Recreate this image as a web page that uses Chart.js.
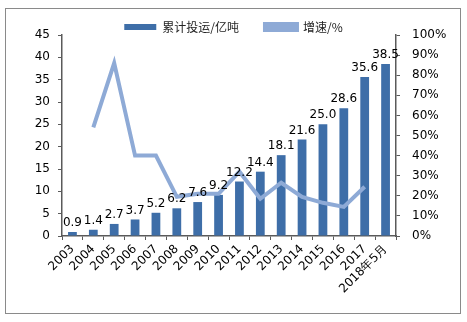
<!DOCTYPE html>
<html>
<head>
<meta charset="utf-8">
<script src="https://cdn.jsdelivr.net/npm/chart.js@4/dist/chart.umd.min.js"></script>
<style>
  body { margin: 0; background: #fff; }
  #wrap { position: relative; width: 467px; height: 322px; }
  #frame { position: absolute; left: 5px; top: 8px; width: 454px; height: 304px; border: 1px solid #8a8a8a; }
  canvas { position: absolute; left: 0; top: 0; }
</style>
</head>
<body>
<div id="wrap">
  <div id="frame"></div>
  <canvas id="c" width="467" height="322"></canvas>
</div>
<script>
// categories and series
var years = ['2003', '2004', '2005', '2006', '2007', '2008', '2009', '2010', '2011', '2012', '2013', '2014', '2015', '2016', '2017', '2018年5月'];
var totalTons = [0.9, 1.4, 2.7, 3.7, 5.2, 6.2, 7.6, 9.2, 12.2, 14.4, 18.1, 21.6, 25.0, 28.6, 35.6, 38.5];
var growthPct = [null, 54, 86, 40, 40, 19.5, 21, 21, 32, 18.5, 26.5, 19.5, 16.5, 14.5, 24.5, null];

var barColor = '#3e6ea8';
var lineColor = '#8eaad6';
var axisColor = '#5a5a5a';
var tickFont = { family: 'DejaVu Sans', size: 12 };

// draws the value on top of every bar
var barValues = {
	id: 'barValues',
	afterDatasetsDraw: function(chart) {
		var ctx = chart.ctx;
		var meta = chart.getDatasetMeta(0);
		ctx.save();
		ctx.font = '12px "DejaVu Sans"';
		ctx.fillStyle = '#000';
		ctx.textAlign = 'center';
		ctx.textBaseline = 'bottom';
		meta.data.forEach(function(bar, i) {
			ctx.fillText(totalTons[i].toFixed(1), bar.x, bar.y - 3);
		});
		ctx.restore();
	}
};

// legend sits closer to the plot than chart.js allows by default
var tightLegend = {
	id: 'tightLegend',
	afterInit: function(chart) {
		var lg = chart.legend;
		if (!lg) return;
		var fit = lg.fit;
		lg.fit = function() {
			fit.call(this);
			this.height -= 8;
		};
	}
};

var myChart = new Chart(document.getElementById('c').getContext('2d'), {
	type: 'bar',
	data: {
		labels: years,
		datasets: [{
			label: '累计投运/亿吨',
			data: totalTons,
			backgroundColor: barColor,
			borderColor: barColor,
			borderWidth: 0,
			barPercentage: 0.42,
			categoryPercentage: 1,
			yAxisID: 'y',
			order: 1
		}, {
			type: 'line',
			label: '增速/%',
			data: growthPct,
			borderColor: lineColor,
			backgroundColor: lineColor,
			borderWidth: 4,
			pointRadius: 0,
			tension: 0,
			spanGaps: false,
			yAxisID: 'y1',
			order: 0
		}]
	},
	options: {
		responsive: false,
		animation: false,
		layout: { padding: { top: -5, left: 0, right: 0, bottom: 0 } },
		plugins: {
			legend: {
				display: true,
				labels: {
					font: { family: 'Noto Sans CJK SC', size: 12 },
					color: '#222',
					boxWidth: 32,
					boxHeight: 6,
					padding: 26,
					sort: function(a, b) { return a.datasetIndex - b.datasetIndex; }
				}
			},
			tooltip: { enabled: false }
		},
		scales: {
			x: {
				afterFit: function(s) { s.height = 86; },
				grid: { drawOnChartArea: false, offset: true, color: axisColor, tickLength: 4 },
				border: { color: axisColor, width: 1.5 },
				ticks: { font: tickFont, color: '#000', maxRotation: 45, minRotation: 45, autoSkip: false, padding: 2 }
			},
			y: {
				position: 'left',
				min: 0,
				max: 45,
				afterFit: function(s) { s.width = 62; },
				grid: { drawOnChartArea: false, color: axisColor, tickLength: 4 },
				border: { color: axisColor, width: 1.5 },
				ticks: { stepSize: 5, font: tickFont, color: '#000', padding: 8 }
			},
			y1: {
				position: 'right',
				min: 0,
				max: 100,
				afterFit: function(s) { s.width = 71; },
				grid: { drawOnChartArea: false, color: axisColor, tickLength: 4 },
				border: { color: axisColor, width: 1.5 },
				ticks: {
					stepSize: 10,
					font: tickFont,
					color: '#000',
					padding: 12,
					callback: function(v) { return v + '%'; }
				}
			}
		}
	},
	plugins: [barValues, tightLegend]
});
</script>
</body>
</html>
